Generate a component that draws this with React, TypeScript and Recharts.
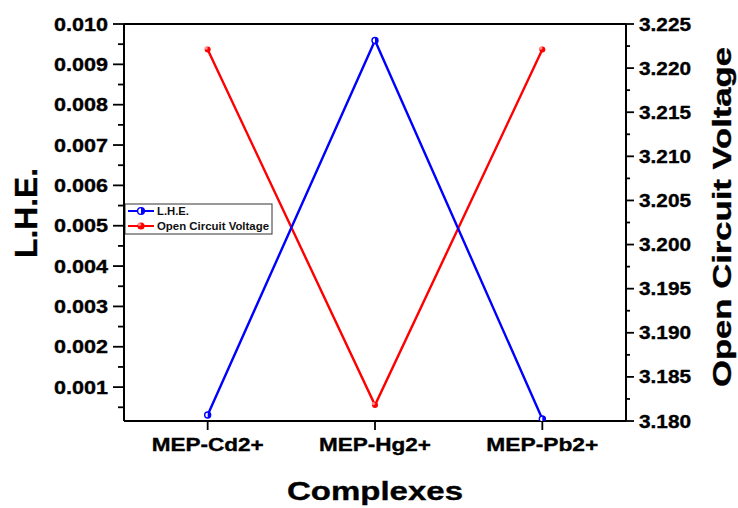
import React from 'react'
import {
  ComposedChart, Line, XAxis, YAxis, ReferenceLine, Label, Customized
} from 'recharts'

const categories = ['MEP-Cd2+', 'MEP-Hg2+', 'MEP-Pb2+']
const lheValues = [0.00031, 0.00959, 0.00021]
const ocvValues = [3.2221, 3.1818, 3.2221]

const lheTicks = [
  0.0005, 0.001, 0.0015, 0.002, 0.0025, 0.003, 0.0035, 0.004, 0.0045, 0.005,
  0.0055, 0.006, 0.0065, 0.007, 0.0075, 0.008, 0.0085, 0.009, 0.0095, 0.01,
]
const ocvTicks = [
  3.18, 3.1825, 3.185, 3.1875, 3.19, 3.1925, 3.195, 3.1975, 3.2, 3.2025,
  3.205, 3.2075, 3.21, 3.2125, 3.215, 3.2175, 3.22, 3.2225, 3.225,
]
const xTicks = [1, 2, 3]

const BLUE = '#0000ff'
const RED = '#ff0000'
const FONT = '"Liberation Sans", Arial, sans-serif'

const data = categories.map((name, i) => ({
  x: i + 1,
  name,
  lhe: lheValues[i],
  ocv: ocvValues[i],
}))

const isMultiple = (v: number, step: number) => {
  const q = v / step
  return Math.abs(q - Math.round(q)) < 1e-6
}

// bold text a bit heavier, like the original export
const heavy = { fontWeight: 'bold' as const, fontFamily: FONT, fill: '#000', stroke: '#000', strokeWidth: 0.35 }

const LeftTick = (props: any) => {
  const y = props.payload?.coordinate ?? props.y
  const v = props.payload.value
  const major = isMultiple(v, 0.001)
  return (
    <g>
      <line x1={124} x2={major ? 113 : 118} y1={y} y2={y} stroke="#000" strokeWidth={1.8} />
      {major && (
        <text x={108} y={y + 6.6} textAnchor="end" fontSize={18.5} {...heavy}
          textLength={54} lengthAdjust="spacingAndGlyphs">
          {v.toFixed(3)}
        </text>
      )}
    </g>
  )
}

const RightTick = (props: any) => {
  const y = props.payload?.coordinate ?? props.y
  const v = props.payload.value
  const major = isMultiple(v - 3.18, 0.005)
  return (
    <g>
      <line x1={626} x2={major ? 634 : 630} y1={y} y2={y} stroke="#000" strokeWidth={1.8} />
      {major && (
        <text x={639} y={y + 6.6} textAnchor="start" fontSize={18.5} {...heavy}
          textLength={52} lengthAdjust="spacingAndGlyphs">
          {v.toFixed(3)}
        </text>
      )}
    </g>
  )
}

const BottomTick = (props: any) => {
  const x = props.payload?.coordinate ?? props.x
  const label = categories[props.payload.value - 1]
  return (
    <text x={x} y={451} textAnchor="middle" fontSize={19} {...heavy}
      textLength={112} lengthAdjust="spacingAndGlyphs">
      {label}
    </text>
  )
}

const BlueMarker = ({ cx, cy, r = 4.3 }: any) => {
  if (cx == null || cy == null) return null
  return (
    <g>
      <circle cx={cx} cy={cy} r={r} fill="#fff" stroke={BLUE} strokeWidth={1.4} />
      <path d={`M${cx},${cy - r} A${r},${r} 0 0 1 ${cx},${cy + r} Z`} fill={BLUE} />
    </g>
  )
}

const RedMarker = ({ cx, cy, r = 4.8 }: any) => {
  if (cx == null || cy == null) return null
  return (
    <g>
      <circle cx={cx} cy={cy} r={r} fill={RED} />
      <circle cx={cx - 1.5} cy={cy - 1.5} r={1.6} fill="#ff9090" />
    </g>
  )
}

const LegendBox = () => (
  <g>
    <rect x={125} y={204} width={147} height={30} fill="#fff" stroke="#333" strokeWidth={1} />
    <line x1={128} x2={154} y1={211} y2={211} stroke={BLUE} strokeWidth={2} />
    <BlueMarker cx={141} cy={211} r={3.4} />
    <text x={157} y={214.8} fontSize={10.5} fontWeight="bold" fontFamily={FONT} fill="#111"
      textLength={32} lengthAdjust="spacingAndGlyphs">L.H.E.</text>
    <line x1={128} x2={154} y1={226} y2={226} stroke={RED} strokeWidth={2} />
    <RedMarker cx={141} cy={226} r={3.6} />
    <text x={157} y={229.8} fontSize={10.5} fontWeight="bold" fontFamily={FONT} fill="#111"
      textLength={112} lengthAdjust="spacingAndGlyphs">Open Circuit Voltage</text>
  </g>
)

export default function App() {
  return (
    <div style={{ position: 'absolute', left: 0, top: 0, background: '#fff' }}>
      <ComposedChart width={738} height={508} data={data}
        margin={{ top: 24, right: 0, bottom: 0, left: 0 }}>
        <XAxis dataKey="x" type="number" domain={[0.5, 3.5]} ticks={xTicks} interval={0}
          height={87} axisLine={{ stroke: '#000', strokeWidth: 2 }}
          tickLine={{ stroke: '#000', strokeWidth: 1.8 }} tickSize={9}
          tick={<BottomTick />}>
          <Label content={() => (
            <text x={375} y={500} textAnchor="middle" fontSize={25.5} {...heavy}
              textLength={176} lengthAdjust="spacingAndGlyphs">
              Complexes
            </text>
          )} />
        </XAxis>
        <YAxis yAxisId="left" orientation="left" width={124} type="number"
          domain={[0.00016, 0.01]} allowDataOverflow ticks={lheTicks} interval={0}
          axisLine={{ stroke: '#000', strokeWidth: 2 }} tickLine={false}
          tick={<LeftTick />}>
          <Label content={() => (
            <text x={37} y={213} transform="rotate(-90 37 213)" textAnchor="middle"
              fontSize={32} {...heavy}
              textLength={90} lengthAdjust="spacingAndGlyphs">
              L.H.E.
            </text>
          )} />
        </YAxis>
        <YAxis yAxisId="right" orientation="right" width={112} type="number"
          domain={[3.18, 3.225]} allowDataOverflow ticks={ocvTicks} interval={0}
          axisLine={{ stroke: '#000', strokeWidth: 2 }} tickLine={false}
          tick={<RightTick />}>
          <Label content={() => (
            <text x={731} y={217} transform="rotate(-90 731 217)" textAnchor="middle"
              fontSize={26} {...heavy}
              textLength={340} lengthAdjust="spacingAndGlyphs">
              Open Circuit Voltage
            </text>
          )} />
        </YAxis>
        <ReferenceLine yAxisId="left" y={0.01} stroke="#000" strokeWidth={2} />
        <Line yAxisId="right" type="linear" dataKey="ocv" stroke={RED} strokeWidth={2.4}
          dot={<RedMarker />} activeDot={false} isAnimationActive={false} />
        <Line yAxisId="left" type="linear" dataKey="lhe" stroke={BLUE} strokeWidth={2.4}
          dot={<BlueMarker />} activeDot={false} isAnimationActive={false} />
        <Customized component={LegendBox} />
      </ComposedChart>
    </div>
  )
}
